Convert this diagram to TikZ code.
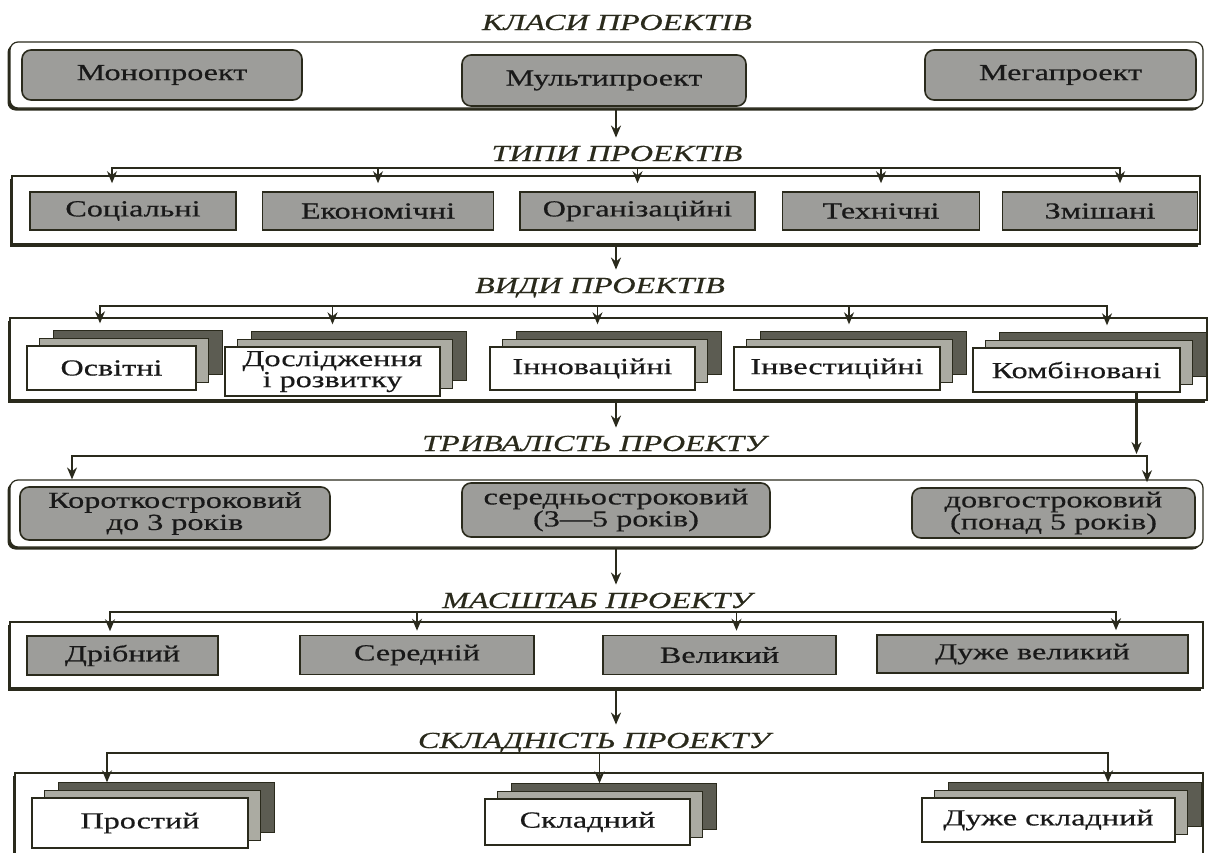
\documentclass[tikz,border=0pt]{standalone}
\usepackage{fontspec}
\setmainfont[FakeStretch=1.4, FakeBold=0.5]{Liberation Serif}
\usetikzlibrary{arrows.meta}
\tikzset{>={Stealth[length=12pt,width=10pt]}}
\definecolor{penColor}{HTML}{2A2A1C}
\definecolor{boxGray}{HTML}{9D9D9A}
\definecolor{backDark}{HTML}{5C5C52}
\definecolor{backLight}{HTML}{ABABA2}
\tikzset{
  head/.style={font=\fontsize{23}{26}\selectfont\itshape, inner sep=0pt, anchor=base, text=penColor},
  frame/.style={draw=penColor, line width=1.2pt, fill=white, inner sep=0pt,
    preaction={fill=penColor, transform canvas={shift={(-2.5pt,-2.5pt)}}}},
  kind/.style={draw=penColor, line width=1.6pt, fill=boxGray, inner sep=0pt,
    font=\fontsize{23}{22}\selectfont, align=center, text=black!90},
  roundkind/.style={kind, rounded corners=9pt},
  card/.style={draw=penColor, line width=1.4pt, fill=white, inner sep=0pt,
    font=\fontsize{23}{25}\selectfont, align=center, text=black!90,
    preaction={draw=penColor, fill=backDark, line width=1pt, transform canvas={shift={(26pt,16pt)}}},
    preaction={draw=penColor, fill=backLight, line width=1pt, transform canvas={shift={(12pt,8pt)}}}},
  link/.style={->, draw=penColor, line width=1.4pt},
  trunk/.style={->, draw=penColor, line width=2.4pt},
}
\begin{document}
\begin{tikzpicture}[x=1pt, y=-1pt]
\useasboundingbox (0,0) rectangle (1211,852);
\coordinate (spine) at (616,0);

% classes
\node[head] (t1) at (617,30) {КЛАСИ ПРОЕКТІВ};
\node[frame, rounded corners=8pt, minimum width=1193pt, minimum height=66pt] (c1) at (606.5,75) {};
\node[roundkind, minimum width=280pt, minimum height=50pt] (mono) at (162,75) {Монопроект};
\node[roundkind, minimum width=284pt, minimum height=51pt] (multi) at (604,80.5) {Мультипроект};
\node[roundkind, minimum width=271pt, minimum height=50pt] (mega) at (1060.5,75) {Мегапроект};

% types
\node[head] (t2) at (617,161) {ТИПИ ПРОЕКТІВ};
\draw[trunk, shorten >=8pt] (c1.south -| spine) -- (t2.north -| spine);
\node[frame, minimum width=1188pt, minimum height=68pt] (c2) at (606,210) {};
\node[kind, minimum width=206pt, minimum height=38pt] (soc) at (133,211) {Соціальні};
\node[kind, minimum width=231pt, minimum height=38pt] (eko) at (378,211) {Економічні};
\node[kind, minimum width=235pt, minimum height=38pt] (org) at (637.5,211) {Організаційні};
\node[kind, minimum width=197pt, minimum height=38pt] (tech) at (881,211) {Технічні};
\node[kind, minimum width=195pt, minimum height=38pt] (zm) at (1100,211) {Змішані};
\coordinate (b2l) at (112,168);
\coordinate (b2r) at (1120,168);
\draw[link, <->, shorten <=8pt, shorten >=8pt] (b2l |- soc.north) -- (b2l) -- (b2r) -- (b2r |- zm.north);
\draw[link, shorten >=8pt] (eko.north |- b2l) -- (eko.north);
\draw[link, shorten >=8pt] (org.north |- b2l) -- (org.north);
\draw[link, shorten >=8pt] (tech.north |- b2l) -- (tech.north);

% kinds
\node[head] (t3) at (600,293) {ВИДИ ПРОЕКТІВ};
\draw[trunk, shorten >=8pt] (c2.south -| spine) -- (t3.north -| spine);
\node[frame, minimum width=1197pt, minimum height=82pt] (c3) at (608.5,359) {};
\node[card, minimum width=169pt, minimum height=44pt] (osv) at (111.5,368) {Освітні};
\node[card, minimum width=215pt, minimum height=49pt] (dosl) at (332.5,371.5) {Дослідження\\[-4pt]і розвитку};
\node[card, minimum width=205pt, minimum height=43pt] (inn) at (592.5,368.5) {Інноваційні};
\node[card, minimum width=206pt, minimum height=43pt] (inv) at (837,368.5) {Інвестиційні};
\node[card, minimum width=207pt, minimum height=44pt] (komb) at (1076.5,370) {Комбіновані};
\coordinate (b3l) at (100,306);
\coordinate (b3r) at (1107,306);
\draw[link, <->, shorten <=22pt, shorten >=22pt] (b3l |- osv.north) -- (b3l) -- (b3r) -- (b3r |- komb.north);
\draw[link, shorten >=22pt] (dosl.north |- b3l) -- (dosl.north);
\draw[link, shorten >=22pt] ([xshift=5pt]inn.north |- b3l) -- ([xshift=5pt]inn.north);
\draw[link, shorten >=22pt] ([xshift=12pt]inv.north |- b3l) -- ([xshift=12pt]inv.north);

% duration
\node[head] (t4) at (594,451) {ТРИВАЛІСТЬ ПРОЕКТУ};
\draw[trunk, shorten >=8pt] (c3.south -| spine) -- (t4.north -| spine);
\node[frame, rounded corners=8pt, minimum width=1193pt, minimum height=67pt] (c4) at (606.5,513.5) {};
\node[roundkind, minimum width=310pt, minimum height=53pt] (short) at (175,513.5) {Короткостроковий\\до 3 років};
\node[roundkind, minimum width=308pt, minimum height=54pt] (mid) at (616,510) {середньостроковий\\(3—5 років)};
\node[roundkind, minimum width=283pt, minimum height=50pt] (long) at (1053.5,513) {довгостроковий\\(понад 5 років)};
\coordinate (b4l) at (72,456);
\coordinate (b4r) at (1147,456);
\draw[link, <->, shorten >=5pt] (b4l |- c4.north) -- (b4l) -- (b4r) -- (b4r |- long.north);
\draw[trunk, shorten >=2pt] ([xshift=60pt]komb.south) -- ([xshift=60pt]komb.south |- b4r);

% scale
\node[head] (t5) at (597,608) {МАСШТАБ ПРОЕКТУ};
\draw[trunk, shorten >=8pt] (c4.south -| spine) -- (t5.north -| spine);
\node[frame, minimum width=1193pt, minimum height=66pt] (c5) at (606.5,655) {};
\node[kind, minimum width=191pt, minimum height=39pt] (drib) at (122.5,655.5) {Дрібний};
\node[kind, minimum width=234pt, minimum height=39pt] (ser) at (417,655) {Середній};
\node[kind, minimum width=233pt, minimum height=39pt] (vel) at (719.5,655) {Великий};
\node[kind, minimum width=311pt, minimum height=38pt] (dvel) at (1032.5,654) {Дуже великий};
\coordinate (b5l) at (110,612);
\coordinate (b5r) at (1116,612);
\draw[link, <->, shorten <=4pt, shorten >=4pt] (b5l |- drib.north) -- (b5l) -- (b5r) -- (b5r |- dvel.north);
\draw[link, shorten >=4pt] (ser.north |- b5l) -- (ser.north);
\draw[link, shorten >=4pt] ([xshift=17pt]vel.north |- b5l) -- ([xshift=17pt]vel.north);

% complexity
\node[head] (t6) at (594,748) {СКЛАДНІСТЬ ПРОЕКТУ};
\draw[trunk, shorten >=8pt] (c5.south -| spine) -- (t6.north -| spine);
\node[frame, minimum width=1188pt, minimum height=97pt] (c6) at (609,821.5) {};
\node[card, minimum width=216pt, minimum height=50pt] (prost) at (140,823) {Простий};
\node[card, minimum width=205pt, minimum height=46pt] (skl) at (587.5,822) {Складний};
\node[card, minimum width=253pt, minimum height=44pt] (dskl) at (1048.5,820) {Дуже складний};
\coordinate (b6l) at (107,753);
\coordinate (b6r) at (1108,753);
\draw[link, <->, shorten <=15pt, shorten >=15pt] (b6l |- prost.north) -- (b6l) -- (b6r) -- (b6r |- dskl.north);
\draw[link, shorten >=15pt] ([xshift=12pt]skl.north |- b6l) -- ([xshift=12pt]skl.north);
\end{tikzpicture}
\end{document}
